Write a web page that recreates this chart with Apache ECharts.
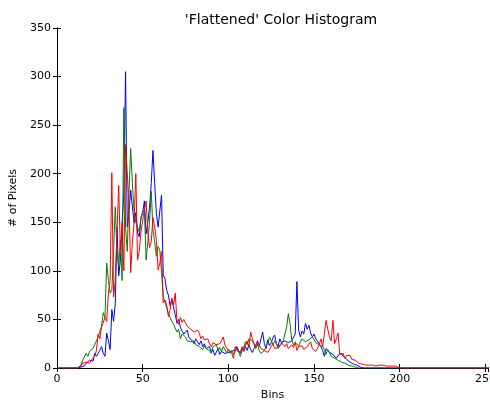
<!DOCTYPE html>
<html>
<head>
<meta charset="utf-8">
<script src="https://cdn.jsdelivr.net/npm/echarts@6/dist/echarts.min.js"></script>
<style>
  html, body { margin: 0; padding: 0; background: #fff; }
  #chart { width: 490px; height: 400px; }
</style>
</head>
<body>
<div id="chart"></div>
<script>
// histogram counts per bin (0..255)
const blueCounts = [
  0, 0, 0, 0, 0, 0, 0, 0, 0, 0, 0, 0, 0, 0, 1, 3, 2, 5, 4, 8,
  10, 7, 15, 12, 10, 18, 22, 15, 12, 36, 28, 19, 60, 48, 66, 145, 95, 111, 150, 180,
  305, 145, 160, 183, 166, 149, 160, 140, 135, 155, 160, 172, 138, 150, 165, 190, 224, 190, 159, 145,
  145, 178, 96, 92, 80, 75, 64, 70, 68, 55, 46, 50, 42, 38, 35, 33, 39, 31, 29, 28,
  25, 30, 27, 24, 28, 22, 25, 20, 18, 22, 16, 19, 13, 15, 20, 14, 17, 18, 15, 13,
  16, 14, 17, 15, 19, 22, 18, 15, 20, 17, 22, 18, 24, 19, 16, 20, 24, 28, 22, 30,
  37, 25, 20, 29, 23, 26, 31, 34, 25, 22, 30, 26, 24, 28, 30, 26, 24, 28, 30, 35,
  89, 39, 32, 38, 35, 46, 40, 44, 36, 32, 35, 30, 29, 25, 22, 18, 12, 20, 20, 16,
  18, 14, 12, 10, 13, 15, 15, 12, 14, 9, 7, 6, 5, 4, 3, 3, 2, 1, 1, 0,
  0, 0, 0, 0, 0, 0, 0, 0, 0, 0, 0, 0, 0, 0, 0, 0, 0, 0, 0, 0,
  0, 0, 0, 0, 0, 0, 0, 0, 0, 0, 0, 0, 0, 0, 0, 0, 0, 0, 0, 0,
  0, 0, 0, 0, 0, 0, 0, 0, 0, 0, 0, 0, 0, 0, 0, 0, 0, 0, 0, 0,
  0, 0, 0, 0, 0, 0, 0, 0, 0, 0, 0, 0, 0, 0, 0, 0
]
const greenCounts = [
  0, 0, 0, 0, 0, 0, 0, 0, 0, 0, 0, 0, 0, 0, 3, 8, 10, 15, 12, 17,
  18, 20, 22, 28, 32, 38, 43, 57, 52, 108, 90, 77, 80, 120, 166, 120, 104, 132, 90, 268,
  145, 120, 180, 226, 190, 160, 150, 145, 140, 155, 160, 163, 111, 130, 150, 182, 142, 130, 115, 125,
  121, 98, 73, 68, 62, 56, 58, 48, 45, 43, 37, 40, 30, 35, 34, 32, 28, 30, 27, 25,
  28, 24, 26, 22, 24, 19, 23, 20, 22, 18, 15, 22, 20, 24, 18, 21, 17, 22, 20, 16,
  19, 15, 18, 14, 17, 20, 16, 12, 18, 22, 27, 24, 30, 32, 28, 24, 20, 25, 18, 15,
  13, 18, 22, 26, 32, 28, 24, 28, 25, 20, 22, 25, 28, 30, 42, 56, 45, 29, 24, 22,
  25, 22, 27, 30, 32, 27, 25, 29, 28, 32, 29, 26, 28, 24, 26, 22, 19, 14, 19, 17,
  12, 14, 10, 9, 8, 7, 6, 5, 5, 4, 3, 3, 2, 2, 1, 1, 0, 0, 0, 0,
  0, 0, 0, 0, 0, 0, 0, 0, 0, 0, 0, 0, 0, 0, 0, 0, 0, 0, 0, 0,
  0, 0, 0, 0, 0, 0, 0, 0, 0, 0, 0, 0, 0, 0, 0, 0, 0, 0, 0, 0,
  0, 0, 0, 0, 0, 0, 0, 0, 0, 0, 0, 0, 0, 0, 0, 0, 0, 0, 0, 0,
  0, 0, 0, 0, 0, 0, 0, 0, 0, 0, 0, 0, 0, 0, 0, 0
]
const redCounts = [
  0, 0, 0, 0, 0, 0, 0, 0, 0, 0, 0, 0, 0, 0, 2, 5, 4, 6, 7, 5,
  8, 10, 12, 18, 35, 30, 42, 40, 52, 48, 77, 90, 201, 73, 90, 140, 188, 118, 150, 100,
  230, 200, 170, 98, 130, 150, 200, 111, 120, 140, 152, 163, 172, 140, 124, 130, 155, 145, 131, 101,
  108, 120, 67, 70, 65, 53, 60, 72, 65, 77, 49, 45, 52, 47, 50, 48, 43, 45, 40, 38,
  37, 35, 39, 36, 30, 33, 29, 27, 30, 25, 22, 26, 28, 24, 22, 25, 28, 32, 24, 20,
  22, 18, 15, 10, 22, 18, 20, 16, 22, 18, 24, 28, 22, 37, 30, 25, 22, 27, 24, 20,
  22, 18, 20, 16, 19, 22, 25, 20, 18, 21, 23, 26, 24, 22, 25, 20, 22, 24, 21, 27,
  18, 22, 20, 23, 19, 17, 22, 24, 27, 20, 22, 17, 20, 24, 30, 22, 35, 49, 40, 32,
  28, 49, 25, 30, 36, 14, 13, 15, 10, 13, 11, 13, 9, 7, 8, 6, 5, 6, 4, 5,
  3, 4, 3, 5, 3, 4, 2, 4, 3, 2, 3, 4, 2, 3, 2, 1, 2, 1, 2, 1,
  0, 0, 0, 0, 0, 0, 0, 0, 0, 0, 0, 0, 0, 0, 0, 0, 0, 0, 0, 0,
  0, 0, 0, 0, 0, 0, 0, 0, 0, 0, 0, 0, 0, 0, 0, 0, 0, 0, 0, 0,
  0, 0, 0, 0, 0, 0, 0, 0, 0, 0, 0, 0, 0, 0, 0, 0
]
const seriesNames = ['b', 'g', 'r']
const seriesColors = ['#0000ff', '#008000', '#ff0000']

const chart = echarts.init(document.getElementById('chart'))
const font = 'DejaVu Sans'
const toPairs = arr => arr.map((v, i) => [i, v])

const axisCommon = {
  axisLine: { show: true, lineStyle: { color: '#000', width: 1 } },
  axisTick: { show: true, inside: true, length: 4, lineStyle: { color: '#000' } },
  splitLine: { show: false }
}

chart.setOption({
  animation: false,
  title: {
    text: "'Flattened' Color Histogram",
    left: 276,
    top: 8,
    textAlign: 'center',
    textStyle: { fontFamily: font, fontSize: 14, fontWeight: 'normal', color: '#000' }
  },
  grid: { left: 57, right: 2, top: 28, bottom: 32, outerBoundsMode: 'none', containLabel: false },
  xAxis: [
    Object.assign({}, axisCommon, {
      type: 'value',
      min: 0,
      max: 251.5,
      interval: 50,
      name: 'Bins',
      nameLocation: 'middle',
      nameGap: 22,
      nameTextStyle: { fontFamily: font, fontSize: 11, color: '#000' },
      axisLabel: { fontFamily: font, fontSize: 11, color: '#000', margin: 6, showMaxLabel: false }
    }),
    Object.assign({}, axisCommon, {
      type: 'value',
      position: 'top',
      min: 0,
      max: 251.5,
      interval: 50,
      axisLabel: { show: false }
    })
  ],
  yAxis: [
    Object.assign({}, axisCommon, {
      type: 'value',
      min: 0,
      max: 350,
      interval: 50,
      name: '# of Pixels',
      nameLocation: 'middle',
      nameGap: 32,
      nameTextStyle: { fontFamily: font, fontSize: 11, color: '#000' },
      axisLabel: { fontFamily: font, fontSize: 11, color: '#000', margin: 6 }
    }),
    Object.assign({}, axisCommon, {
      type: 'value',
      position: 'right',
      min: 0,
      max: 350,
      interval: 50,
      axisLabel: { show: false }
    })
  ],
  series: [blueCounts, greenCounts, redCounts].map((arr, k) => ({
    name: seriesNames[k],
    type: 'line',
    data: toPairs(arr),
    showSymbol: false,
    symbol: 'none',
    lineStyle: { color: seriesColors[k], width: 1 },
    itemStyle: { color: seriesColors[k] }
  }))
})
</script>
</body>
</html>
